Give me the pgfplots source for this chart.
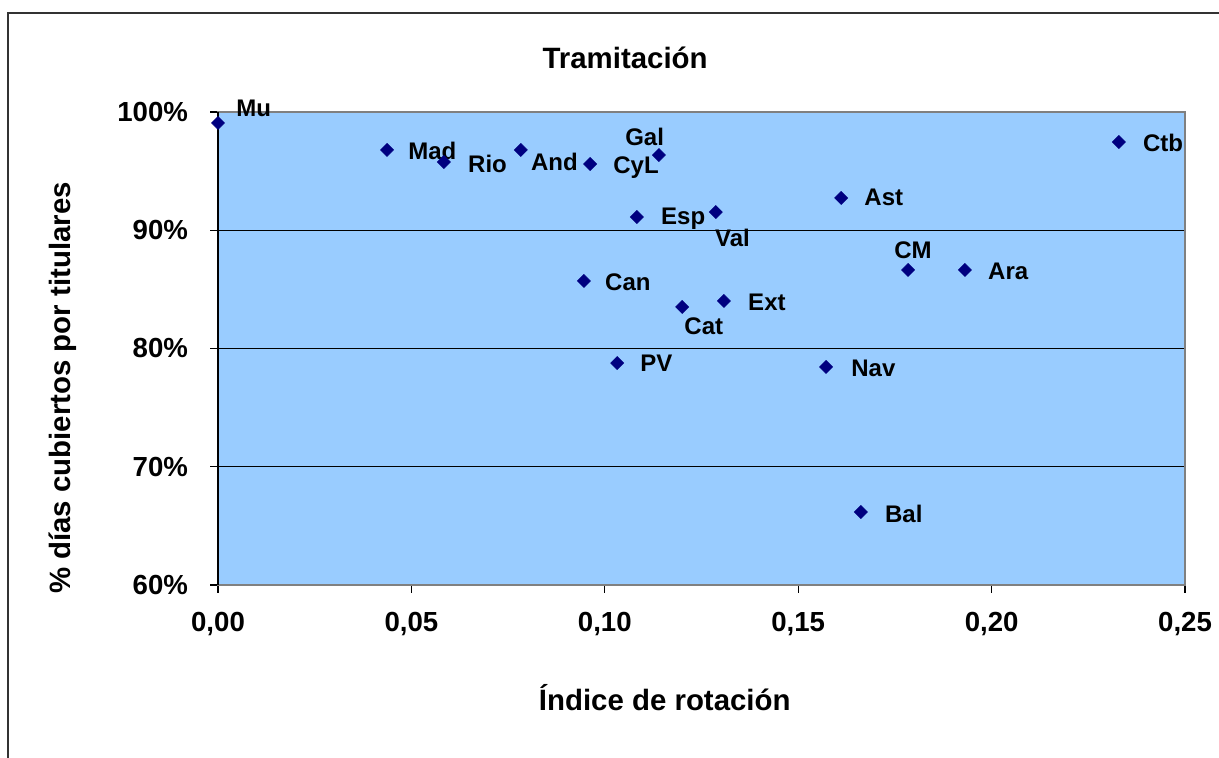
\documentclass[border=0pt]{standalone}
\usepackage{pgfplots}
\pgfplotsset{compat=1.18}
\usepackage{pgfplotstable}
\usepackage{fontspec}
\setmainfont{Liberation Sans}
\definecolor{bgblue}{HTML}{99CCFF}
\definecolor{navy}{HTML}{000080}
\definecolor{framegray}{HTML}{808080}
\pgfplotstableread{
x y label dx dy
0.0000 99.07 Mu 9 7.5
0.0437 96.79 Mad 10.5 -0.5
0.0584 95.77 Rio 12 -1
0.0783 96.79 And 5 -6
0.0962 95.60 CyL 11.5 -2
0.1140 96.36 Gal -17 9
0.1083 91.12 Esp 12 -1
0.1287 91.54 Val -0.5 -13
0.1611 92.73 Ast 11.5 0.5
0.2329 97.46 Ctb 12 -0.5
0.1784 86.64 CM -7 10
0.1931 86.64 Ara 11.5 -0.5
0.0946 85.71 Can 10.5 -0.5
0.1200 83.51 Cat 1 -9.5
0.1308 84.02 Ext 12 -0.5
0.1032 78.77 PV 11.5 0
0.1572 78.44 Nav 12.5 -0.5
0.1662 66.17 Bal 12 -1
}\datatable
\begin{document}
\begin{tikzpicture}
\path[use as bounding box] (0,0) rectangle (609.5pt,379pt);
\draw[black!80, line width=0.6pt] (4pt,0) -- (4pt,372.5pt) -- (609.5pt,372.5pt);
\begin{axis}[
  at={(109pt,86.5pt)}, anchor=south west,
  scale only axis,
  width=483.5pt, height=236.5pt,
  xmin=0, xmax=0.25, ymin=60, ymax=100,
  axis background/.style={fill=bgblue},
  axis line style={draw=framegray, line width=0.8pt},
  xtick={0,0.05,0.1,0.15,0.2,0.25},
  xticklabels={{0,00},{0,05},{0,10},{0,15},{0,20},{0,25}},
  ytick={60,70,80,90,100},
  yticklabels={60\%,70\%,80\%,90\%,100\%},
  xtick pos=bottom, ytick pos=left,
  tick align=outside, major tick length=4pt,
  tick style={black, line width=0.6pt},
  ymajorgrids, major grid style={black, line width=0.6pt},
  ticklabel style={font=\bfseries\fontsize{13.8}{15}\selectfont},
  yticklabel style={xshift=-7.5pt},
  xticklabel style={yshift=-6pt},
  title={Tramitación},
  title style={font=\bfseries\fontsize{14.7}{17}\selectfont, at={(rel axis cs:0.421,1.089)}, anchor=center},
  xlabel={Índice de rotación},
  xlabel style={font=\bfseries\fontsize{14.7}{17}\selectfont, at={(rel axis cs:0.462,-0.239)}, anchor=center},
  ylabel={\% días cubiertos por titulares},
  ylabel style={font=\bfseries\fontsize{14.7}{17}\selectfont, at={(rel axis cs:-0.161,0.4165)}, anchor=center},
  clip=false,
]
\addplot[only marks, mark=square*, mark size=2.3pt,
  mark options={rotate=45, fill=navy, draw=navy, line width=0.3pt},
  point meta=explicit symbolic,
  nodes near coords,
  visualization depends on={\thisrow{dx}\as\dx},
  visualization depends on={\thisrow{dy}\as\dy},
  every node near coord/.append style={anchor=west, inner sep=0pt, xshift=\dx pt, yshift=\dy pt, font=\bfseries\fontsize{12}{14}\selectfont, text=black},
] table[x=x, y=y, meta=label] {\datatable};
\draw[black, line width=0.8pt] (rel axis cs:0,0) -- (rel axis cs:0,1);
\end{axis}
\end{tikzpicture}
\end{document}
